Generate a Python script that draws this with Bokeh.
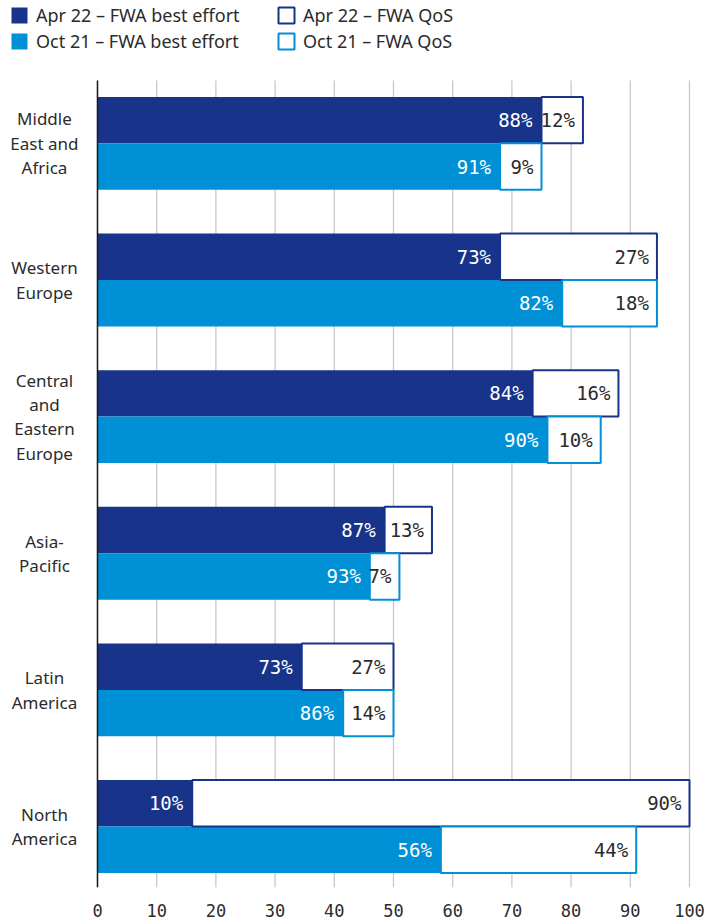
from bokeh.plotting import figure
from bokeh.models import Range1d, ColumnDataSource, Legend, LegendItem, FixedTicker
from bokeh.core.properties import value
from bokeh.embed import file_html
from bokeh.resources import INLINE

# ---------------- data ----------------
regions = ["Middle\nEast and\nAfrica", "Western\nEurope", "Central\nand\nEastern\nEurope",
           "Asia-\nPacific", "Latin\nAmerica", "North\nAmerica"]
apr_best = [75, 68, 73.5, 48.5, 34.5, 16]
apr_qos = [7, 26.5, 14.5, 8, 15.5, 84]
oct_best = [68, 78.5, 76, 46, 41.5, 58]
oct_qos = [7, 16, 9, 5, 8.5, 33]
apr_best_pct = [88, 73, 84, 87, 73, 10]
apr_qos_pct = [12, 27, 16, 13, 27, 90]
oct_best_pct = [91, 82, 90, 93, 86, 56]
oct_qos_pct = [9, 18, 10, 7, 14, 44]
x_ticks = [0, 10, 20, 30, 40, 50, 60, 70, 80, 90, 100]
legend_labels = ["Apr 22 \u2013 FWA best effort", "Oct 21 \u2013 FWA best effort",
                 "Apr 22 \u2013 FWA QoS", "Oct 21 \u2013 FWA QoS"]

# ---------------- style / layout ----------------
DARK = "#18338a"
LIGHT = "#0090d6"
TEXT = "#2b2b2b"
OFF = 0.17          # half distance between the two bars of a group
H = 0.34            # bar thickness
CHART_TOP = -0.4605 # top of the plotting area (legend lives above it)
CHART_BOTTOM = 5.446
LABEL_X = -8.96     # centre of the region labels (left of the axis)

idx = list(range(len(regions)))


def make_src(offset, best, qos, bpct, qpct):
    return ColumnDataSource(dict(
        y=[i + offset for i in idx],
        best=best,
        end=[b + q for b, q in zip(best, qos)],
        best_lbl=[f"{v}%" for v in bpct],
        qos_lbl=[f"{v}%" for v in qpct],
    ))


src_apr = make_src(-OFF, apr_best, apr_qos, apr_best_pct, apr_qos_pct)
src_oct = make_src(OFF, oct_best, oct_qos, oct_best_pct, oct_qos_pct)

p = figure(width=713, height=919, output_backend="svg", toolbar_location=None,
           x_range=Range1d(-16.385, 104.054), y_range=Range1d(CHART_BOTTOM, -1.0453),
           min_border_left=0, min_border_right=0, min_border_top=0, min_border_bottom=31)
p.outline_line_color = None
p.background_fill_color = "white"
p.border_fill_color = "white"

# vertical grid lines (only over the chart area)
p.segment(x0=x_ticks, y0=[CHART_TOP] * len(x_ticks), x1=x_ticks, y1=[CHART_BOTTOM] * len(x_ticks),
          line_color="#c8c8c8", line_width=1.3)

r_apr_best = p.hbar(y="y", left=0, right="best", height=H, source=src_apr,
                    fill_color=DARK, line_color=None)
r_oct_best = p.hbar(y="y", left=0, right="best", height=H, source=src_oct,
                    fill_color=LIGHT, line_color=None)
r_apr_qos = p.hbar(y="y", left="best", right="end", height=H, source=src_apr,
                   fill_color="white", line_color=DARK, line_width=2)
r_oct_qos = p.hbar(y="y", left="best", right="end", height=H, source=src_oct,
                   fill_color="white", line_color=LIGHT, line_width=2)

# value axis line at 0
p.segment(x0=[0], y0=[CHART_TOP], x1=[0], y1=[CHART_BOTTOM], line_color="#1a1a1a", line_width=1.5)

for src in (src_apr, src_oct):
    p.text(x="best", y="y", text="best_lbl", source=src, x_offset=-9,
           text_align="right", text_baseline="middle", text_color="white",
           text_font=value("DejaVu Sans Mono"), text_font_size="19px")
    p.text(x="end", y="y", text="qos_lbl", source=src, x_offset=-8,
           text_align="right", text_baseline="middle", text_color=TEXT,
           text_font=value("DejaVu Sans Mono"), text_font_size="19px")

# region labels
p.text(x=[LABEL_X] * len(regions), y=idx, text=regions, text_align="center",
       text_baseline="middle", text_font=value("Noto Sans"), text_font_size="17px",
       text_color=TEXT, text_line_height=1.06)

# axes
p.xaxis.ticker = FixedTicker(ticks=x_ticks)
p.xaxis.major_tick_line_color = None
p.xaxis.minor_tick_line_color = None
p.xaxis.axis_line_color = None
p.xaxis.major_label_text_font = "DejaVu Sans Mono"
p.xaxis.major_label_text_font_size = "17px"
p.xaxis.major_label_text_color = TEXT
p.xaxis.major_label_standoff = 10
p.yaxis.visible = False
p.xgrid.grid_line_color = None
p.ygrid.grid_line_color = None

common = dict(glyph_width=20, glyph_height=20, label_standoff=7, spacing=2, padding=0,
              margin=0, border_line_color=None, background_fill_alpha=0,
              label_text_font="Noto Sans", label_text_font_size="18px",
              label_text_color=TEXT, label_height=20)
leg1 = Legend(items=[LegendItem(label=legend_labels[0], renderers=[r_apr_best]),
                     LegendItem(label=legend_labels[1], renderers=[r_oct_best])],
              location=(9, 834), **common)
leg2 = Legend(items=[LegendItem(label=legend_labels[2], renderers=[r_apr_qos]),
                     LegendItem(label=legend_labels[3], renderers=[r_oct_qos])],
              location=(276, 834), **common)
p.add_layout(leg1)
p.add_layout(leg2)

open("out.html", "w").write(file_html(p, INLINE))
